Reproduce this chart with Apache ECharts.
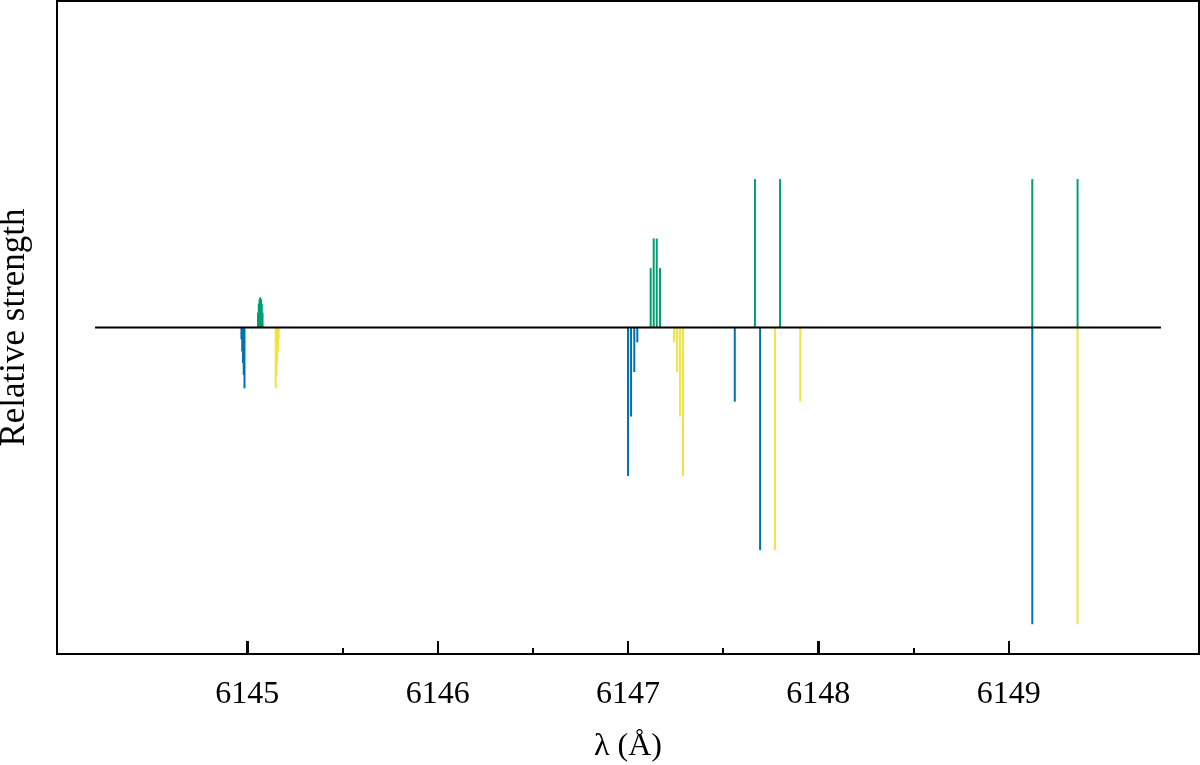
<!DOCTYPE html>
<html>
<head>
<meta charset="utf-8">
<script src="https://cdn.jsdelivr.net/npm/echarts@6/dist/echarts.min.js"></script>
<style>html,body{margin:0;padding:0;background:#fff}#c{width:1200px;height:765px}</style>
</head>
<body>
<div id="c"></div>
<script>
// σ- components (blue), plotted downward
const blueWl  = [6144.969, 6144.973, 6144.977, 6144.981, 6144.985, 6147.000, 6147.016, 6147.033, 6147.049, 6147.561, 6147.694, 6149.124];
const blueStr = [-0.04, -0.08, -0.12, -0.16, -0.205, -0.50, -0.30, -0.15, -0.05, -0.25, -0.75, -1.0];
// π components (green), plotted upward
const greenWl  = [6145.056, 6145.060, 6145.064, 6145.068, 6145.072, 6145.076, 6145.080, 6147.119, 6147.135, 6147.151, 6147.168, 6147.667, 6147.799, 6149.124, 6149.362];
const greenStr = [0.05, 0.08, 0.095, 0.102, 0.095, 0.08, 0.05, 0.20, 0.30, 0.30, 0.20, 0.50, 0.50, 0.50, 0.50];
// σ+ components (yellow), plotted downward
const yellowWl  = [6145.149, 6145.153, 6145.157, 6145.161, 6145.165, 6147.242, 6147.258, 6147.273, 6147.289, 6147.772, 6147.905, 6149.362];
const yellowStr = [-0.205, -0.16, -0.12, -0.08, -0.04, -0.05, -0.15, -0.30, -0.50, -0.75, -0.25, -1.0];
// baseline extent
const baseWl = [6144.2, 6149.8];
const xTicks = [6145, 6146, 6147, 6148, 6149];
const xMinorTicks = [6145.5, 6146.5, 6147.5, 6148.5];
const Y_MIN = -1.1, Y_MAX = 1.1;

const FONT = '"Liberation Serif", "Times New Roman", serif';

function pairs(xs, ys) { return xs.map((x, i) => [x, ys[i]]); }

function stickSeries(name, xs, ys, color) {
  return {
    name: name,
    type: 'custom',
    data: pairs(xs, ys),
    encode: { x: 0, y: 1 },
    z: 2,
    renderItem: function (params, api) {
      const x = api.value(0), y = api.value(1);
      const p0 = api.coord([x, 0]);
      const p1 = api.coord([x, y]);
      return {
        type: 'line',
        shape: { x1: p0[0], y1: p0[1], x2: p1[0], y2: p1[1] },
        style: { stroke: color, lineWidth: 2, lineCap: 'butt' }
      };
    }
  };
}

// axis tick marks drawn at the given x values, anchored on the bottom axis
function tickSeries(name, values, len) {
  return {
    name: name,
    type: 'custom',
    data: values.map(v => [v, Y_MIN]),
    encode: { x: 0, y: 1 },
    clip: false,
    silent: true,
    z: 10,
    renderItem: function (params, api) {
      const p = api.coord([api.value(0), api.value(1)]);
      return {
        type: 'rect',
        shape: { x: Math.round(p[0]) - 1, y: Math.round(p[1]) - len, width: 2, height: len },
        style: { fill: '#000' }
      };
    }
  };
}

const chart = echarts.init(document.getElementById('c'), null, { renderer: 'canvas' });
chart.setOption({
  animation: false,
  backgroundColor: '#ffffff',
  grid: {
    left: 57, right: 1, top: 1, bottom: 111,
    containLabel: false, outerBoundsMode: 'none',
    show: true, borderColor: '#000', borderWidth: 2, backgroundColor: 'transparent'
  },
  xAxis: {
    type: 'value',
    min: 6144, max: 6150, interval: 1,
    name: 'λ (Å)',
    nameLocation: 'middle',
    nameGap: 77,
    nameTextStyle: { fontFamily: FONT, fontSize: 32, color: '#000' },
    axisLine: { show: true, onZero: false, lineStyle: { color: '#000', width: 2 } },
    axisTick: { show: true, inside: true, length: 13, lineStyle: { color: '#000', width: 2 } },
    minorTick: { show: false },
    splitLine: { show: false },
    axisLabel: {
      show: true, margin: 25, fontFamily: FONT, fontSize: 32, color: '#000',
      showMinLabel: false, showMaxLabel: false,
      formatter: function (v) { return xTicks.indexOf(v) >= 0 ? String(v) : ''; }
    }
  },
  yAxis: {
    type: 'value',
    min: Y_MIN, max: Y_MAX,
    name: 'Relative strength',
    nameLocation: 'middle',
    nameRotate: 90,
    nameGap: 25,
    nameTextStyle: { fontFamily: FONT, fontSize: 35, color: '#000' },
    axisLine: { show: true, onZero: false, lineStyle: { color: '#000', width: 2 } },
    axisTick: { show: false },
    axisLabel: { show: false },
    splitLine: { show: false }
  },
  series: [
    stickSeries('sigma-', blueWl, blueStr, '#0072B2'),
    stickSeries('pi', greenWl, greenStr, '#009E73'),
    stickSeries('sigma+', yellowWl, yellowStr, '#F0E442'),
    {
      name: 'baseline',
      type: 'line',
      data: baseWl.map(x => [x, 0]),
      symbol: 'none',
      z: 5,
      lineStyle: { color: '#000', width: 2 }
    },
    tickSeries('majorTicks', xTicks, 13),
    tickSeries('minorTicks', xMinorTicks, 6)
  ]
});
</script>
</body>
</html>
